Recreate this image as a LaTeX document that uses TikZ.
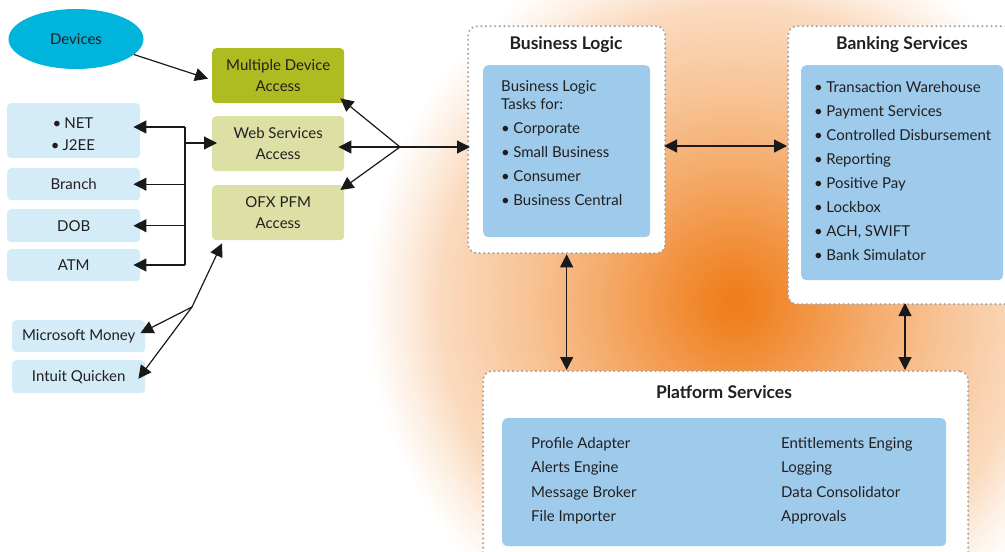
\documentclass[tikz,border=0pt]{standalone}
\usepackage{fontspec}
\setmainfont{Lato}
\usetikzlibrary{arrows.meta,shapes.geometric,calc}
\definecolor{txt}{HTML}{231F20}
\definecolor{cyanfill}{HTML}{00B4DC}
\definecolor{olive}{HTML}{AEBB21}
\definecolor{paleolive}{HTML}{DCE0A5}
\definecolor{lblue}{HTML}{D3ECF7}
\definecolor{mblue}{HTML}{9ECBEC}
\definecolor{dotc}{HTML}{A3A3A3}
\definecolor{og}{HTML}{EF7D1A}
\pgfdeclareradialshading{glow}{\pgfpoint{0bp}{0bp}}{color(0bp)=(og); color(1.5bp)=(og!96!white); color(4bp)=(og!86!white); color(8.3bp)=(og!68!white); color(13.5bp)=(og!48!white); color(20bp)=(og!28!white); color(22.6bp)=(og!12!white); color(25bp)=(white); color(50bp)=(white)}
\begin{document}
\begin{tikzpicture}[x=1pt,y=-1pt,
  every node/.style={text=txt, font=\fontsize{15}{21.5}\selectfont},
  sbox/.style={anchor=north west, rounded corners=4pt, inner sep=0pt, align=center},
  leftbox/.style={sbox, fill=lblue, minimum width=133pt},
  accbox/.style={sbox, fill=paleolive, minimum width=132pt},
  outerbox/.style={anchor=north west, draw=dotc, fill=white, line width=2.3pt, dash pattern=on 0pt off 4.6pt, line cap=round, rounded corners=9pt, inner sep=0pt},
  innerbox/.style={anchor=north west, fill=mblue, rounded corners=5pt, inner sep=0pt},
  title/.style={font=\fontsize{17.5}{20}\selectfont\bfseries, anchor=mid},
  item/.style={anchor=mid west, inner sep=0pt},
  arr/.style={draw=black!90, line width=1.2pt, -{Triangle[length=13pt,width=13pt]}},
  darr/.style={draw=black!90, line width=1.2pt, {Triangle[length=13pt,width=13pt]}-{Triangle[length=13pt,width=13pt]}},
  ln/.style={draw=black!90, line width=1.2pt}
]
\useasboundingbox (0,0) rectangle (1005,552);
\begin{scope}
\clip (0,0) rectangle (1005,552);
\shade[shading=glow] (735,302) circle (370pt);

% outer dotted boxes
\node[outerbox, minimum width=197pt, minimum height=227pt] (bl) at (467,25) {};
\node[outerbox, minimum width=240pt, minimum height=278pt] (bs) at (787,25) {};
\node[outerbox, minimum width=485pt, minimum height=230pt] (ps) at (482,370) {};

% inner boxes
\node[innerbox, minimum width=167pt, minimum height=172pt] (blin) at (483,65) {};
\node[innerbox, minimum width=202pt, minimum height=215pt] (bsin) at (801,65) {};
\node[innerbox, minimum width=444pt, minimum height=128pt] (psin) at (502,418) {};

% titles
\node[title] (bltitle) at (566,47) {Business Logic};
\node[title] (bstitle) at (902,47) {Banking Services};
\node[title] (pstitle) at (724,396) {Platform Services};

% business logic text
\node[item] (blt1) at (501,89) {Business Logic};
\node[item] (blt2) at (501,107) {Tasks for:};
\foreach \t [count=\i] in {Corporate,Small Business,Consumer,Business Central}{
  \node[item] (blb\i) at (501,107+24*\i) {•\hspace{3.5pt}\t};
}
% banking text
\foreach \t [count=\i] in {Transaction Warehouse,Payment Services,Controlled Disbursement,Reporting,Positive Pay,Lockbox,{ACH, SWIFT},Bank Simulator}{
  \node[item] (bsb\i) at (814,66+24*\i) {•\hspace{3.5pt}\t};
}
% platform text
\foreach \t [count=\i] in {Profile Adapter,Alerts Engine,Message Broker,File Importer}{
  \node[item] (psl\i) at (531,421+24.5*\i) {\t};
}
\foreach \t [count=\i] in {Entitlements Enging,Logging,Data Consolidator,Approvals}{
  \node[item] (psr\i) at (781,421+24.5*\i) {\t};
}

% left side
\node[ellipse, fill=cyanfill, minimum width=135pt, minimum height=60pt, inner sep=0pt] (dev) at (76,39) {Devices};
\node[sbox, fill=olive, minimum width=132pt, minimum height=55pt] (mda) at (212,48) {Multiple Device\\Access};
\node[accbox, minimum height=55pt] (wsa) at (212,116) {Web Services\\Access};
\node[accbox, minimum height=55pt] (ofx) at (212,185) {OFX PFM\\Access};

\node[leftbox, minimum height=55pt] (net) at (7,103) {};
\node[align=center, inner sep=0pt] (nettext) at (73,134) {•\hspace{3pt}NET\\•\hspace{3pt}J2EE};
\node[leftbox, minimum height=32pt] (branch) at (7,168) {Branch};
\node[leftbox, minimum height=33pt] (dob) at (7,209) {DOB};
\node[leftbox, minimum height=32pt] (atm) at (7,249) {ATM};
\node[leftbox, minimum height=32pt] (mm) at (12,320) {Microsoft Money};
\node[leftbox, minimum height=33pt] (iq) at (12,360) {Intuit Quicken};
\end{scope}

% connectors
\draw[arr] (dev.-15) -- ($(mda.west)+(-4,3)$);

\coordinate (hub) at (400,147);
\draw[arr] (hub) -- ($(mda.south east)+(-4,-5)$);
\draw[arr] (hub) -- ($(hub -| wsa.east)+(-6,0)$);
\draw[arr] (hub) -- ($(ofx.north east)+(-4,5)$);
\draw[arr] (hub) -- ($(hub -| bl.west)+(3,0)$);

\coordinate (bt) at (185,127);
\coordinate (bb) at (185,265);
\draw[ln] (bt) -- (bb);
\draw[arr] (bt) -- ($(bt -| net.east)+(-7,0)$);
\draw[arr] (bt |- branch) -- ($(branch.east)+(-7,0)$);
\draw[arr] (bt |- dob) -- ($(dob.east)+(-7,0)$);
\draw[arr] (bb) -- ($(bb -| atm.east)+(-7,0)$);
\coordinate (bw) at (185,143);
\draw[arr] (bw) -- ($(bw -| wsa.west)+(5,0)$);

\coordinate (fork) at (192,307);
\draw[arr] (fork) -- ($(ofx.south west)+(10,3)$);
\draw[arr] (fork) -- ($(mm.east)+(-5,-3)$);
\draw[arr] (fork) -- ($(iq.east)+(-7,2)$);

\coordinate (h1) at (664,146);
\draw[darr] (h1) -- (h1 -| bs.west);
\draw[darr] (bl.south) -- (bl.south |- ps.north);
\coordinate (v2) at (905,303);
\draw[darr] (v2) -- (v2 |- ps.north);
\end{tikzpicture}
\end{document}
